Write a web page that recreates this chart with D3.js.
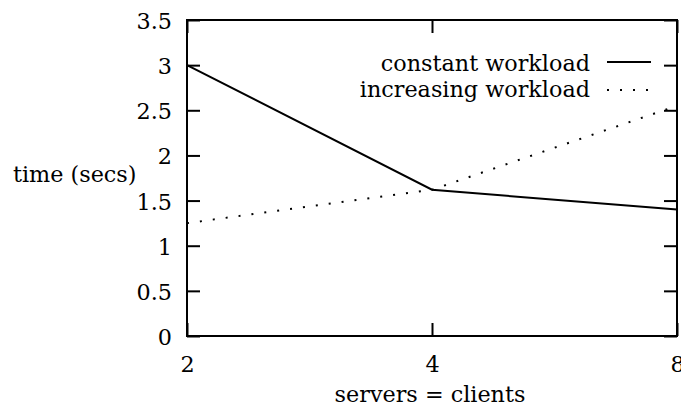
<!DOCTYPE html>
<html>
<head>
<meta charset="utf-8">
<script src="https://cdn.jsdelivr.net/npm/d3@7"></script>
<style>
  html, body { margin: 0; padding: 0; background: #fff; }
</style>
</head>
<body>
<svg id="chart" width="681" height="410"></svg>
<script>
// servers = clients (log2 axis)
const nodes = [2, 4, 8];
// time in seconds for each workload type
const constantWorkload = [3.0, 1.62, 1.4];
const increasingWorkload = [1.25, 1.62, 2.55];
const yTicks = [0, 0.5, 1, 1.5, 2, 2.5, 3, 3.5];
const yTickLabels = ["0", "0.5", "1", "1.5", "2", "2.5", "3", "3.5"];
const seriesNames = ["constant workload", "increasing workload"];

const svg = d3.select("#chart");
const plotLeft = 187, plotRight = 677, plotTop = 20, plotBottom = 336;
const fontFamily = '"DejaVu Serif", serif';
const fontSize = 22.3;

const x = d3.scaleLog().base(2).domain([2, 8]).range([plotLeft, plotRight]);
const y = d3.scaleLinear().domain([0, 3.5]).range([plotBottom, plotTop]);

const tickLen = 13;

function styleText(sel) {
  sel.attr("font-family", fontFamily).attr("font-size", fontSize).attr("fill", "#000");
}

// left axis: inward ticks with labels
const yAxis = d3.axisLeft(y).tickValues(yTicks)
  .tickFormat((d, i) => yTickLabels[i])
  .tickSizeInner(-tickLen).tickSizeOuter(0).tickPadding(15);
const gy = svg.append("g").attr("transform", `translate(${plotLeft},0)`).call(yAxis);
gy.attr("font-family", fontFamily).attr("font-size", fontSize);
gy.select(".domain").remove();
gy.selectAll("line").attr("stroke", "#000").attr("stroke-width", 2);
gy.selectAll("text").call(styleText).attr("dy", "0.38em");

// right axis: mirrored ticks, no labels
const yAxisR = d3.axisRight(y).tickValues(yTicks).tickFormat("")
  .tickSizeInner(-tickLen).tickSizeOuter(0);
const gyr = svg.append("g").attr("transform", `translate(${plotRight},0)`).call(yAxisR);
gyr.select(".domain").remove();
gyr.selectAll("line").attr("stroke", "#000").attr("stroke-width", 2);

// bottom axis
const xAxis = d3.axisBottom(x).tickValues(nodes).tickFormat(d3.format("d"))
  .tickSizeInner(-tickLen).tickSizeOuter(0).tickPadding(0);
const gx = svg.append("g").attr("transform", `translate(0,${plotBottom})`).call(xAxis);
gx.attr("font-family", fontFamily).attr("font-size", fontSize);
gx.select(".domain").remove();
gx.selectAll("line").attr("stroke", "#000").attr("stroke-width", 2);
gx.selectAll("text").call(styleText).attr("y", 36).attr("dy", 0);

// top axis: mirrored ticks
const xAxisT = d3.axisTop(x).tickValues(nodes).tickFormat("")
  .tickSizeInner(-tickLen).tickSizeOuter(0);
const gxt = svg.append("g").attr("transform", `translate(0,${plotTop})`).call(xAxisT);
gxt.select(".domain").remove();
gxt.selectAll("line").attr("stroke", "#000").attr("stroke-width", 2);

// plot frame
svg.append("rect")
  .attr("x", plotLeft).attr("y", plotTop)
  .attr("width", plotRight - plotLeft).attr("height", plotBottom - plotTop)
  .attr("fill", "none").attr("stroke", "#000").attr("stroke-width", 2);

// axis titles
svg.append("text").attr("x", 430).attr("y", 402)
  .attr("text-anchor", "middle").call(styleText)
  .text("servers = clients");
svg.append("text").attr("x", 13).attr("y", 182)
  .attr("text-anchor", "start").call(styleText)
  .text("time (secs)");

// data lines
const line = d3.line().x((d, i) => x(nodes[i])).y(d => y(d));
const styles = [
  { dash: null, width: 2 },
  { dash: "2,11", width: 2 }
];
[constantWorkload, increasingWorkload].forEach((vals, k) => {
  svg.append("path").datum(vals)
    .attr("d", line)
    .attr("fill", "none").attr("stroke", "#000")
    .attr("stroke-width", styles[k].width)
    .attr("stroke-dasharray", styles[k].dash);
});

// legend
const legendText = [71, 97];
const legendLine = [62, 90];
seriesNames.forEach((name, k) => {
  svg.append("text").attr("x", 590).attr("y", legendText[k])
    .attr("text-anchor", "end").call(styleText).text(name);
  svg.append("line").attr("x1", 607).attr("x2", 651)
    .attr("y1", legendLine[k]).attr("y2", legendLine[k])
    .attr("stroke", "#000").attr("stroke-width", 2)
    .attr("stroke-dasharray", styles[k].dash);
});
</script>
</body>
</html>
